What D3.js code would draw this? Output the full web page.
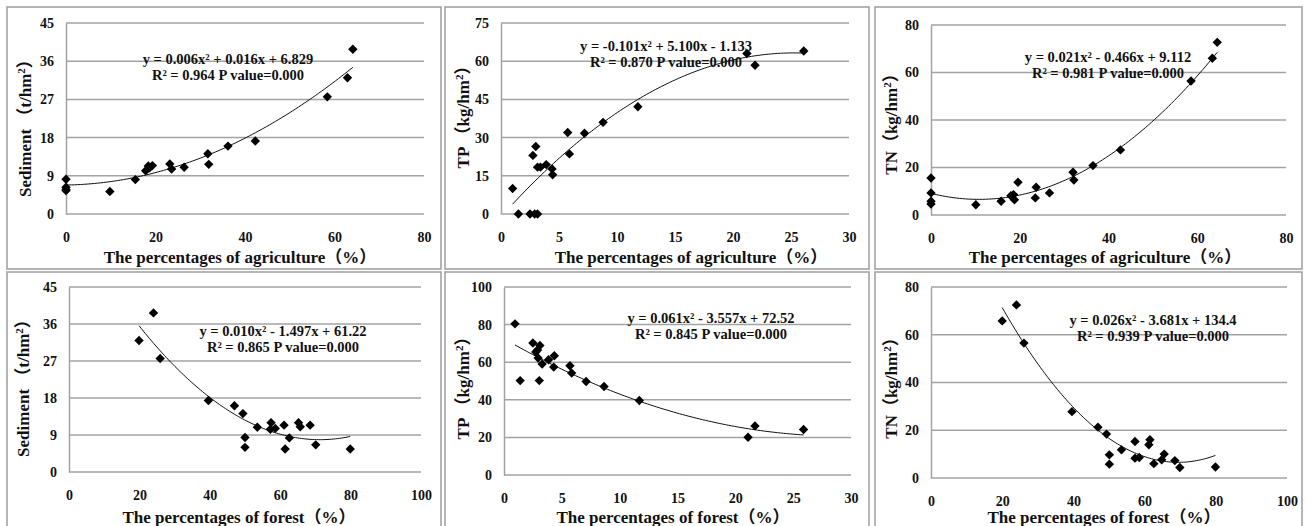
<!DOCTYPE html>
<html>
<head>
<meta charset="utf-8">
<script src="https://cdn.jsdelivr.net/npm/d3@7"></script>
<style>
  body { margin: 0; background: #fff; }
  svg text { font-family: "Liberation Serif", "Times New Roman", "Noto Sans CJK SC", serif; font-weight: bold; fill: #111; }
</style>
</head>
<body>
<svg id="chart" width="1307" height="526"></svg>
<script>
// agriculture share (%) vs sediment / TN
const agriSedX = [0, 0, 0, 0, 9.8, 15.5, 17.8, 18.4, 18.7, 19.3, 23.2, 23.6, 26.4, 31.7, 31.9, 36.2, 42.3, 58.4, 62.9, 64.1];
const agriSedY = [8.2, 6.3, 5.5, 5.8, 5.3, 8.1, 10.2, 11.3, 10.9, 11.4, 11.8, 10.6, 11.0, 14.2, 11.7, 16.0, 17.2, 27.6, 32.1, 38.8];

const agriTpX = [1.0, 1.5, 2.5, 2.9, 3.15, 2.75, 3.0, 3.15, 3.4, 3.9, 4.4, 4.45, 5.75, 5.9, 7.2, 8.8, 11.8, 21.2, 21.9, 26.1];
const agriTpY = [10.0, 0, 0, 0, 0, 23.0, 26.5, 18.4, 18.4, 19.4, 17.7, 15.4, 32.0, 23.6, 31.7, 36.0, 42.1, 63.0, 58.4, 64.0];

const agriTnX = [0, 0, 0, 0, 10.1, 15.8, 18.0, 18.6, 18.8, 19.6, 23.5, 23.7, 26.7, 32.0, 32.2, 36.5, 42.7, 58.6, 63.4, 64.5];
const agriTnY = [15.6, 9.3, 5.8, 4.6, 4.3, 5.8, 8.1, 8.6, 6.4, 13.8, 7.2, 11.7, 9.3, 18.0, 14.7, 20.8, 27.4, 56.4, 66.0, 72.7];

// forest share (%)
const forSedX = [19.9, 24.0, 25.9, 39.6, 47.0, 49.4, 50.0, 50.0, 53.5, 57.2, 57.4, 58.6, 61.1, 61.4, 62.6, 65.2, 65.7, 68.5, 70.1, 79.9];
const forSedY = [32.0, 38.7, 27.6, 17.4, 16.1, 14.2, 8.4, 6.0, 10.9, 10.4, 12.0, 10.6, 11.4, 5.6, 8.3, 12.0, 11.0, 11.4, 6.6, 5.6];

const forTpX = [0.95, 1.4, 2.5, 2.75, 2.95, 2.9, 3.1, 3.05, 3.3, 3.85, 4.3, 4.35, 5.7, 5.85, 7.1, 8.65, 11.7, 21.1, 21.7, 25.9];
const forTpY = [80.4, 50.2, 70.2, 65.4, 62.2, 66.5, 68.9, 50.2, 59.0, 61.3, 57.4, 63.4, 58.1, 54.2, 49.7, 47.1, 39.6, 20.1, 26.1, 24.2];

const forTnX = [20.0, 24.0, 26.1, 39.6, 46.9, 49.3, 50.1, 50.1, 53.5, 57.3, 57.3, 58.5, 61.2, 61.5, 62.6, 64.8, 65.5, 68.5, 69.9, 79.9];
const forTnY = [65.8, 72.5, 56.5, 27.8, 21.3, 18.4, 9.7, 5.8, 11.8, 15.3, 8.3, 8.6, 13.9, 16.0, 6.0, 7.6, 10.0, 7.3, 4.4, 4.6];

// quadratic trend coefficients [a, b, c] (unrounded within the printed precision)
const fitAgriSed = [0.0065, 0.016, 6.829];
const fitAgriTp = [-0.101, 5.1, -1.133];
const fitAgriTn = [0.0215, -0.466, 9.112];
const fitForSed = [0.0105, -1.497, 61.22];
const fitForTp = [0.061, -3.557, 72.52];
const fitForTn = [0.0265, -3.681, 134.4];

const eqAgriSed = ['y = 0.006x² + 0.016x + 6.829', 'R² = 0.964 P value=0.000'];
const eqAgriTp = ['y = -0.101x² + 5.100x - 1.133', 'R² = 0.870 P value=0.000'];
const eqAgriTn = ['y = 0.021x² - 0.466x + 9.112', 'R² = 0.981 P value=0.000'];
const eqForSed = ['y = 0.010x² - 1.497x + 61.22', 'R² = 0.865 P value=0.000'];
const eqForTp = ['y = 0.061x² - 3.557x + 72.52', 'R² = 0.845 P value=0.000'];
const eqForTn = ['y = 0.026x² - 3.681x + 134.4', 'R² = 0.939 P value=0.000'];

const xTicks80 = [0, 20, 40, 60, 80];
const xTicks30 = [0, 5, 10, 15, 20, 25, 30];
const xTicks100 = [0, 20, 40, 60, 80, 100];
const yTicks45 = [0, 9, 18, 27, 36, 45];
const yTicks75 = [0, 15, 30, 45, 60, 75];
const yTicks80 = [0, 20, 40, 60, 80];
const yTicks100 = [0, 20, 40, 60, 80, 100];

const agriTitle = 'The percentages of agriculture（%）';
const forTitle = 'The percentages of forest（%）';

const panels = [
  { box: [7, 7, 441, 269], plot: [66, 424, 214, 23], xTicks: xTicks80, yTicks: yTicks45,
    xs: agriSedX, ys: agriSedY, fit: fitAgriSed, eq: eqAgriSed, eqPos: [228, 59],
    yTitle: ['Sediment （t/hm', '）'], yTitlePos: [25, 124], xTitle: agriTitle, xTitlePos: [240, 257] },
  { box: [445, 7, 869, 269], plot: [501, 849, 214, 23], xTicks: xTicks30, yTicks: yTicks75,
    xs: agriTpX, ys: agriTpY, fit: fitAgriTp, eq: eqAgriTp, eqPos: [666, 46],
    yTitle: ['TP （kg/hm', '）'], yTitlePos: [463, 113], xTitle: agriTitle, xTitlePos: [691, 257] },
  { box: [875, 7, 1302, 269], plot: [931, 1286, 215, 25], xTicks: xTicks80, yTicks: yTicks80,
    xs: agriTnX, ys: agriTnY, fit: fitAgriTn, eq: eqAgriTn, eqPos: [1108, 57],
    yTitle: ['TN（kg/hm', '）'], yTitlePos: [891, 120], xTitle: agriTitle, xTitlePos: [1105, 257] },
  { box: [7, 272, 441, 545], plot: [69, 421, 472, 287], xTicks: xTicks100, yTicks: yTicks45,
    xs: forSedX, ys: forSedY, fit: fitForSed, eq: eqForSed, eqPos: [283, 331],
    yTitle: ['Sediment （t/hm', '）'], yTitlePos: [23, 384], xTitle: forTitle, xTitlePos: [239, 517] },
  { box: [445, 272, 869, 545], plot: [504, 851, 475, 287], xTicks: xTicks30, yTicks: yTicks100,
    xs: forTpX, ys: forTpY, fit: fitForTp, eq: eqForTp, eqPos: [711, 318],
    yTitle: ['TP （kg/hm', '）'], yTitlePos: [463, 384], xTitle: forTitle, xTitlePos: [673, 517] },
  { box: [875, 272, 1302, 545], plot: [931, 1287, 478, 287], xTicks: xTicks100, yTicks: yTicks80,
    xs: forTnX, ys: forTnY, fit: fitForTn, eq: eqForTn, eqPos: [1153, 320],
    yTitle: ['TN（kg/hm', '）'], yTitlePos: [891, 384], xTitle: forTitle, xTitlePos: [1104, 517] },
];

const svg = d3.select('#chart');
const gridColor = '#a3a3a3';
const diamond = d3.symbol().type(d3.symbolSquare).size(44);

const drawPanel = (p) => {
  const [left, right, bottom, top] = p.plot;
  const g = svg.append('g');

  g.append('rect')
    .attr('x', p.box[0])
    .attr('y', p.box[1])
    .attr('width', p.box[2] - p.box[0])
    .attr('height', p.box[3] - p.box[1])
    .attr('fill', 'none')
    .attr('stroke', gridColor)
    .attr('stroke-width', 1.6);

  const x = d3.scaleLinear()
    .domain(d3.extent(p.xTicks))
    .range([left, right]);
  const y = d3.scaleLinear()
    .domain(d3.extent(p.yTicks))
    .range([bottom, top]);

  // horizontal gridlines
  g.append('g')
    .selectAll('line')
    .data(p.yTicks)
    .join('line')
    .attr('x1', left)
    .attr('x2', right)
    .attr('y1', (d) => y(d))
    .attr('y2', (d) => y(d))
    .attr('stroke', gridColor)
    .attr('stroke-width', 1.5);

  const yAxis = g.append('g')
    .attr('transform', `translate(${left},0)`)
    .call(d3.axisLeft(y).tickValues(p.yTicks).tickSize(0).tickPadding(12));
  yAxis.select('.domain')
    .attr('stroke', gridColor)
    .attr('stroke-width', 1.5);
  yAxis.attr('font-size', 14).attr('font-family', null);

  const xAxis = g.append('g')
    .attr('transform', `translate(0,${bottom})`)
    .call(d3.axisBottom(x).tickValues(p.xTicks).tickSize(0).tickPadding(18));
  xAxis.select('.domain').remove();
  xAxis.attr('font-size', 14).attr('font-family', null);

  // quadratic trendline
  const [a, b, c] = p.fit;
  const [x0, x1] = d3.extent(p.xs);
  const curve = d3.range(0, 101).map((i) => {
    const xv = x0 + (x1 - x0) * i / 100;
    return [xv, a * xv * xv + b * xv + c];
  });
  g.append('path')
    .datum(curve)
    .attr('fill', 'none')
    .attr('stroke', '#111')
    .attr('stroke-width', 1)
    .attr('d', d3.line().x((d) => x(d[0])).y((d) => y(d[1])));

  // points
  g.append('g')
    .selectAll('path')
    .data(p.xs.map((xv, i) => [xv, p.ys[i]]))
    .join('path')
    .attr('d', diamond)
    .attr('transform', (d) => `translate(${x(d[0])},${y(d[1])}) rotate(45)`)
    .attr('fill', '#000');

  // equation
  g.append('text')
    .attr('x', p.eqPos[0])
    .attr('y', p.eqPos[1] + 5)
    .attr('text-anchor', 'middle')
    .attr('font-size', 14.5)
    .text(p.eq[0]);
  g.append('text')
    .attr('x', p.eqPos[0])
    .attr('y', p.eqPos[1] + 21)
    .attr('text-anchor', 'middle')
    .attr('font-size', 14.5)
    .text(p.eq[1]);

  // axis titles
  const yt = g.append('text')
    .attr('transform', `translate(${p.yTitlePos[0] + 6},${p.yTitlePos[1]}) rotate(-90)`)
    .attr('text-anchor', 'middle')
    .attr('font-size', 17);
  yt.append('tspan').text(p.yTitle[0]);
  yt.append('tspan').attr('dy', -6).attr('font-size', 11).text('2');
  yt.append('tspan').attr('dy', 6).text(p.yTitle[1]);

  g.append('text')
    .attr('x', p.xTitlePos[0])
    .attr('y', p.xTitlePos[1] + 6)
    .attr('text-anchor', 'middle')
    .attr('font-size', 17)
    .text(p.xTitle);
};

panels.forEach(drawPanel);
</script>
</body>
</html>
